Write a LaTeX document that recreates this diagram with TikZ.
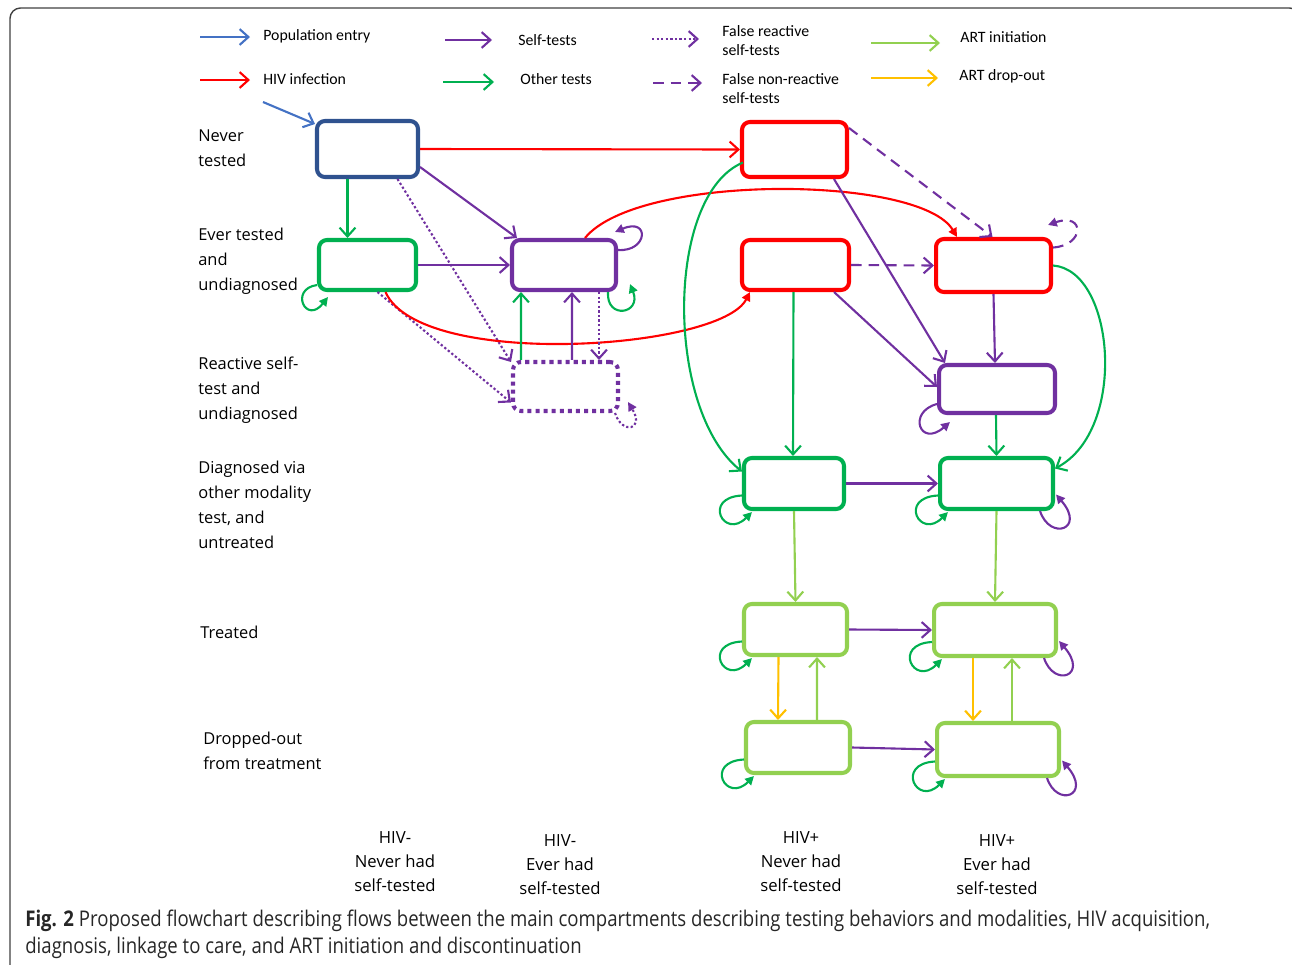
\documentclass[tikz,border=0pt]{standalone}
\usepackage{fontspec}
\setmainfont{Open Sans}
\newfontfamily\legfont{Carlito}
\newfontfamily\capfont[FakeStretch=0.86]{Open Sans}
\usetikzlibrary{arrows.meta, calc}
\definecolor{neverblue}{HTML}{2F528F}
\definecolor{entryblue}{HTML}{4472C4}
\definecolor{infred}{HTML}{FF0000}
\definecolor{stpurple}{HTML}{7030A0}
\definecolor{othgreen}{HTML}{00B050}
\definecolor{artgreen}{HTML}{92D050}
\definecolor{dropyellow}{HTML}{FFC000}

\begin{document}
\begin{tikzpicture}[x=0.02cm, y=-0.02cm]
\tikzstyle{every node}+=[inner sep=0pt]
\tikzstyle{comp}=[rectangle, rounded corners=4.5pt, line width=2.3pt]
\tikzstyle{flow}=[line width=1.2pt, -{Straight Barb[length=5pt,width=9pt]}]
\tikzstyle{selfloop}=[line width=1.2pt, -{Triangle[length=5pt,width=5pt]}]
\tikzstyle{fakepos}=[dash pattern=on 1.3pt off 1.3pt]
\tikzstyle{fakeneg}=[dash pattern=on 6pt off 4pt]
\tikzstyle{rowlabel}=[anchor=west, align=left, font=\fontsize{9.35}{14.2}\selectfont]
\tikzstyle{collabel}=[align=center, font=\fontsize{9.5}{13.6}\selectfont]
\tikzstyle{legend}=[anchor=west, align=left, font=\legfont\fontsize{9}{10.8}\selectfont]
\useasboundingbox (0,0) rectangle (1292,964);
\draw [black!75, line width=0.8pt, rounded corners=6pt] (10,1000) -- (10,8) -- (1300,8) -- (1300,1000);

\node [legend] (lgpop) at (263,36) {Population entry};
\node [legend] (lghiv) at (263,79) {HIV infection};
\node [legend] (lgself) at (518,40) {Self-tests};
\node [legend] (lgoth) at (520,79) {Other tests};
\node [legend] (lgfr) at (722,41) {False reactive\\self-tests};
\node [legend] (lgfn) at (722,88.5) {False non-reactive\\self-tests};
\node [legend] (lgart) at (960,37) {ART initiation};
\node [legend] (lgdrop) at (959,76) {ART drop-out};
\draw [flow, entryblue] ($(lgpop.west)+(-63,1)$) -- +(50,0);
\draw [flow, infred] ($(lghiv.west)+(-63,1)$) -- +(50,0);
\draw [flow, stpurple] ($(lgself.west)+(-73,0)$) -- +(47,0);
\draw [flow, othgreen] ($(lgoth.west)+(-77,3)$) -- +(51,0);
\draw [flow, stpurple, fakepos] ($(lgfr.west)+(-70,-2)$) -- +(47,0);
\draw [flow, stpurple, fakeneg] ($(lgfn.west)+(-69,-5.5)$) -- +(49,0);
\draw [flow, artgreen] ($(lgart.west)+(-89,6)$) -- +(69,0);
\draw [flow, dropyellow] ($(lgdrop.west)+(-88,2)$) -- +(67,0);

\node [rowlabel] (lblnt) at (198,148.5) {Never\\tested};
\node [rowlabel] (lblet) at (198,261.5) {Ever tested\\and\\undiagnosed};
\node [rowlabel] (lblrs) at (198,390) {Reactive self-\\test and\\undiagnosed};
\node [rowlabel] (lbldg) at (198,505) {Diagnosed via\\other modality\\test, and\\untreated};
\node [rowlabel] (lbltr) at (200,632) {Treated};
\node [rowlabel] (lbldo) at (203,750.5) {Dropped-out\\from treatment};
\node [collabel] (colnn) at (395,862) {HIV-\\Never had\\self-tested};
\node [collabel] (colne) at (560,864.5) {HIV-\\Ever had\\self-tested};
\node [collabel] (colpn) at (801,862) {HIV+\\Never had\\self-tested};
\node [collabel] (colpe) at (997,864.5) {HIV+\\Ever had\\self-tested};
\node [anchor=west, align=left, text=black!85, font=\capfont\fontsize{12.3}{15.3}\selectfont] (caption) at (25,934.5) {\textbf{Fig. 2} Proposed flowchart describing flows between the main compartments describing testing behaviors and modalities, HIV acquisition,\\diagnosis, linkage to care, and ART initiation and discontinuation};

\node [comp, draw=neverblue, minimum width=2.02cm, minimum height=1.12cm] (nt) at (367.5,149) {};
\node [comp, draw=othgreen, minimum width=1.94cm, minimum height=1cm] (et) at (367.5,265) {};
\node [comp, draw=stpurple, minimum width=2.08cm, minimum height=1cm] (st) at (564,265) {};
\node [comp, draw=stpurple, dash pattern=on 2.3pt off 2.3pt, minimum width=2.1cm, minimum height=0.98cm] (rs) at (565.5,386.5) {};
\node [comp, draw=infred, minimum width=2.1cm, minimum height=1.1cm] (pn) at (794.5,149.5) {};
\node [comp, draw=infred, minimum width=2.14cm, minimum height=1cm] (pe) at (795.5,265) {};
\node [comp, draw=infred, minimum width=2.3cm, minimum height=1.06cm] (ps) at (993.5,265.5) {};
\node [comp, draw=stpurple, minimum width=2.32cm, minimum height=0.96cm] (rp) at (997,389) {};
\node [comp, draw=othgreen, minimum width=2cm, minimum height=1.02cm] (dn) at (794,483.5) {};
\node [comp, draw=othgreen, minimum width=2.26cm, minimum height=1.02cm] (ds) at (996.5,483.5) {};
\node [comp, draw=artgreen, minimum width=2.06cm, minimum height=1.02cm] (tn) at (795.5,629.5) {};
\node [comp, draw=artgreen, minimum width=2.44cm, minimum height=1.04cm] (ts) at (995,630) {};
\node [comp, draw=artgreen, minimum width=2.08cm, minimum height=1.02cm] (on) at (798,747.5) {};
\node [comp, draw=artgreen, minimum width=2.44cm, minimum height=1.06cm] (os) at (998,749.5) {};

\coordinate (entry) at (263,102);
\draw [flow, entryblue] (entry) -- ($(nt.north west)+(0,5)$);
\draw [flow, infred] (nt.east) -- (pn.west);
\draw [flow, othgreen] ($(nt.south)+(-20,0)$) -- ($(et.north)+(-20,0)$);
\draw [flow, stpurple] ($(nt.east)+(0,18)$) -- ($(st.north west)+(7,0)$);
\draw [flow, stpurple, fakepos] ($(nt.south)+(30,0)$) -- ($(rs.north west)+(0,2)$);
\draw [flow, stpurple] (et.east) -- (st.west);
\draw [flow, stpurple, fakepos] ($(et.south)+(10,0)$) -- ($(rs.west)+(0,16)$);
\draw [selfloop, infred] ($(et.south)+(18,0)$) .. controls (420,370) and (720,350) .. ($(pe.south west)+(10,0)$);
\draw [selfloop, infred] ($(st.north)+(21,0)$) .. controls (638,173) and (920,175) .. ($(ps.north west)+(23,0)$);
\draw [selfloop, othgreen] ($(et.south west)+(0,-7)$) .. controls +(-28,4) and +(-22,28) .. ($(et.south west)+(11,5)$);
\draw [selfloop, stpurple] ($(st.east)+(0,-15)$) .. controls +(30,2) and +(35,-15) .. ($(st.north east)+(-3,-6)$);
\draw [selfloop, othgreen] ($(st.south east)+(-10,0)$) .. controls +(-2,28) and +(12,30) .. ($(st.south east)+(12,-8)$);
\draw [flow, othgreen] ($(rs.north west)+(10,0)$) -- ($(st.south west)+(11,0)$);
\draw [flow, stpurple] ($(rs.north)+(6.5,0)$) -- ($(st.south)+(8,0)$);
\draw [flow, stpurple, fakepos] ($(st.south east)+(-19,0)$) -- ($(rs.north east)+(-21,0)$);
\draw [selfloop, stpurple, fakepos] ($(rs.south east)+(-5,0)$) .. controls +(7,22) and +(17,28) .. ($(rs.south east)+(8,-11)$);

\draw [flow, stpurple, fakeneg] ($(pn.north east)+(0,8)$) -- ($(ps.north)+(-1,0)$);
\draw [flow, stpurple] ($(pn.south east)+(-15,0)$) -- ($(rp.north west)+(8,0)$);
\draw [flow, stpurple, fakeneg] (pe.east) -- (ps.west);
\draw [flow, stpurple] ($(pe.south east)+(-17,0)$) -- ($(rp.west)+(0,-2)$);
\draw [flow, othgreen] ($(pe.south)+(-2,0)$) -- ($(dn.north)+(-1,0)$);
\draw [flow, stpurple] (ps.south) -- ($(rp.north)+(-2,0)$);
\draw [selfloop, stpurple, fakeneg] ($(ps.east)+(0,-18)$) .. controls +(32,-2) and +(37,-13) .. ($(ps.north east)+(-5,-12)$);
\draw [flow, othgreen] ($(pn.west)+(3,13)$) .. controls (665,195) and (665,410) .. ($(dn.west)+(0,-12)$);
\draw [flow, othgreen] (ps.east) .. controls (1115,270) and (1128,430) .. ($(ds.east)+(0,-15)$);
\draw [flow, othgreen] ($(rp.south)+(-1,0)$) -- (ds.north);
\draw [selfloop, stpurple] ($(rp.west)+(0,15)$) .. controls +(-30,8) and +(-30,26) .. ($(rp.south west)+(13,7)$);

\draw [flow, stpurple] (dn.east) -- (ds.west);
\draw [flow, artgreen] (dn.south) -- (tn.north);
\draw [flow, artgreen] (ds.south) -- (ts.north);
\draw [flow, stpurple] (tn.east) -- (ts.west);
\draw [flow, stpurple] (on.east) -- (os.west);
\draw [flow, dropyellow] ($(tn.south)+(-17,0)$) -- ($(on.north)+(-20,0)$);
\draw [flow, artgreen] ($(on.north)+(19,0)$) -- ($(tn.south)+(21.5,0)$);
\draw [flow, dropyellow] ($(ts.south)+(-22,0)$) -- ($(os.north)+(-25,0)$);
\draw [flow, artgreen] ($(os.north)+(14,0)$) -- ($(ts.south)+(17,0)$);

\draw [selfloop, othgreen] ($(dn.west)+(0,12)$) .. controls +(-40,2) and +(-28,28) .. ($(dn.south west)+(10,1)$);
\draw [selfloop, othgreen] ($(ds.west)+(0,12)$) .. controls +(-40,2) and +(-28,28) .. ($(ds.south west)+(10,1)$);
\draw [selfloop, othgreen] ($(tn.west)+(0,12)$) .. controls +(-40,2) and +(-28,28) .. ($(tn.south west)+(10,1)$);
\draw [selfloop, othgreen] ($(ts.west)+(0,12)$) .. controls +(-40,2) and +(-28,28) .. ($(ts.south west)+(10,1)$);
\draw [selfloop, othgreen] ($(on.west)+(0,12)$) .. controls +(-40,2) and +(-28,28) .. ($(on.south west)+(10,1)$);
\draw [selfloop, othgreen] ($(os.west)+(0,12)$) .. controls +(-40,2) and +(-28,28) .. ($(os.south west)+(10,1)$);
\draw [selfloop, stpurple] ($(ds.south east)+(-15,0)$) .. controls +(10,30) and +(30,35) .. ($(ds.east)+(1,11)$);
\draw [selfloop, stpurple] ($(ts.south east)+(-14,0)$) .. controls +(10,30) and +(30,35) .. ($(ts.east)+(1,11)$);
\draw [selfloop, stpurple] ($(os.south east)+(-14,0)$) .. controls +(10,30) and +(30,35) .. ($(os.east)+(1,11)$);
\end{tikzpicture}
\end{document}
